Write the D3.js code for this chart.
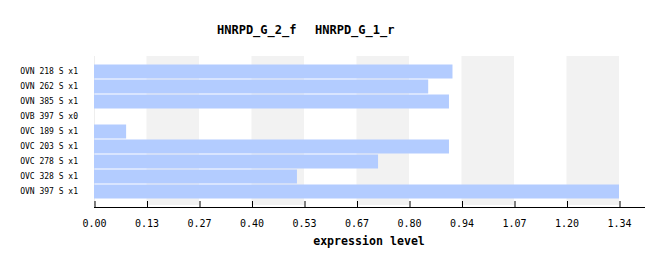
<!DOCTYPE html>
<html><head><meta charset="utf-8">
<script src="https://cdn.jsdelivr.net/npm/d3@7"></script>
<style>body{margin:0;background:#fff}svg{display:block}</style>
</head><body>
<script>
const categories = ["OVN 218 S x1","OVN 262 S x1","OVN 385 S x1","OVB 397 S x0","OVC 189 S x1","OVC 203 S x1","OVC 278 S x1","OVC 328 S x1","OVN 397 S x1"];
const values = [0.915, 0.853, 0.906, 0, 0.082, 0.906, 0.725, 0.518, 1.34];
const tickLabels = ["0.00","0.13","0.27","0.40","0.53","0.67","0.80","0.94","1.07","1.20","1.34"];
const titles = ["HNRPD_G_2_f","HNRPD_G_1_r"];
const xMax = 1.34;

const W = 664, H = 266;
const svg = d3.select("body").append("svg").attr("width", W).attr("height", H);
const mono = "'DejaVu Sans Mono', monospace";

const x = d3.scaleLinear().domain([0, xMax]).range([94, 619]);
const y = d3.scaleBand().domain(categories).range([64, 199]).paddingInner(1/15).paddingOuter(1/30);
const tickVals = d3.range(tickLabels.length).map(i => i * xMax / (tickLabels.length - 1));

// alternating bands
for (let i = 0; i < tickVals.length - 1; i++) {
  if (i % 2 === 1) {
    svg.append("rect").attr("x", x(tickVals[i])).attr("y", 56)
      .attr("width", x(tickVals[i+1]) - x(tickVals[i])).attr("height", 149).attr("fill", "#f2f2f2");
  }
}
svg.append("line").attr("x1", 94.5).attr("x2", 94.5).attr("y1", 56).attr("y2", 205).attr("stroke", "#eeeeee");

// bars
svg.selectAll("rect.bar").data(categories).enter().append("rect").attr("class","bar")
  .attr("x", x(0)).attr("y", d => y(d)).attr("height", y.bandwidth())
  .attr("width", (d,i) => x(values[i]) - x(0)).attr("fill", "#b3ccff");

// row labels
svg.selectAll("text.row").data(categories).enter().append("text").attr("class","row")
  .attr("x", 78).attr("y", d => y(d) + y.bandwidth()/2).attr("dy", "0.35em")
  .attr("text-anchor", "end").attr("font-family", mono).attr("font-size", "8px").attr("fill", "#000")
  .text(d => d);

// axis
const axis = d3.axisBottom(x).tickValues(tickVals).tickFormat((d,i) => tickLabels[i]).tickSize(0).tickPadding(0);
const g = svg.append("g").attr("transform", "translate(0,207)").call(axis);
g.select(".domain").remove();
g.selectAll(".tick text").attr("y", 20).attr("dy", 0).attr("font-family", mono).attr("font-size", "10px").attr("fill", "#000");
g.selectAll(".tick").append("line").attr("y1", -6).attr("y2", 0).attr("stroke", "#000").attr("x1", 0.5).attr("x2", 0.5);
g.append("line").attr("x1", 94).attr("x2", 645).attr("y1", 0.5).attr("y2", 0.5).attr("stroke", "#000");

svg.append("text").attr("x", 369).attr("y", 245).attr("text-anchor", "middle")
  .attr("font-family", mono).attr("font-weight", "bold").attr("font-size", "11.6px").text("expression level");

svg.append("text").attr("x", 217).attr("y", 34).attr("font-family", mono).attr("font-weight", "bold").attr("font-size", "12px").text(titles[0]);
svg.append("text").attr("x", 315).attr("y", 34).attr("font-family", mono).attr("font-weight", "bold").attr("font-size", "12px").text(titles[1]);
</script>
</body></html>
